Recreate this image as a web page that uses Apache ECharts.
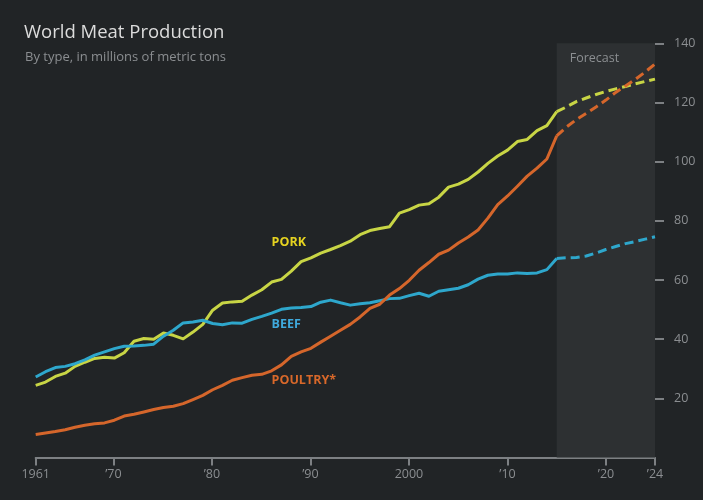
<!DOCTYPE html>
<html>
<head>
<meta charset="utf-8">
<script src="https://cdn.jsdelivr.net/npm/echarts@6/dist/echarts.min.js"></script>
<style>
html,body{margin:0;padding:0;background:#212426;}
#chart{width:703px;height:500px;}
</style>
</head>
<body>
<div id="chart"></div>
<script>
// ---- Data (millions of metric tons) ----
const histYears = [1961,1962,1963,1964,1965,1966,1967,1968,1969,1970,
  1971,1972,1973,1974,1975,1976,1977,1978,1979,1980,
  1981,1982,1983,1984,1985,1986,1987,1988,1989,1990,
  1991,1992,1993,1994,1995,1996,1997,1998,1999,2000,
  2001,2002,2003,2004,2005,2006,2007,2008,2009,2010,
  2011,2012,2013,2014];
const forecastYears = [2014,2015,2016,2017,2018,2019,2020,2021,2022,2023,2024];

const porkHist = [24.4,25.5,27.4,28.5,30.8,32.2,33.5,33.9,33.6,35.4,
  39.3,40.2,40.0,42.1,41.3,40.1,42.4,45.0,49.8,52.2,
  52.6,52.8,54.9,56.7,59.3,60.2,63.0,66.2,67.5,69.1,
  70.3,71.6,73.1,75.3,76.7,77.4,78.0,82.6,83.8,85.3,
  85.8,88.0,91.4,92.4,94.0,96.5,99.4,101.9,103.9,106.8,
  107.5,110.5,112.2,116.9];
const beefHist = [27.2,29.0,30.4,30.8,31.7,33.0,34.6,35.7,36.8,37.6,
  37.7,37.9,38.3,41.0,43.0,45.5,45.8,46.4,45.3,44.9,
  45.5,45.4,46.7,47.7,48.8,50.1,50.5,50.7,51.0,52.5,
  53.2,52.3,51.5,52.0,52.3,53.0,53.7,53.8,54.7,55.5,
  54.5,56.2,56.7,57.2,58.4,60.3,61.6,62.0,62.0,62.4,
  62.2,62.4,63.5,67.3];
const poultryHist = [7.8,8.3,8.8,9.4,10.2,10.9,11.4,11.7,12.6,14.0,
  14.6,15.4,16.2,16.9,17.3,18.2,19.6,21.0,22.9,24.4,
  26.1,27.0,27.8,28.1,29.3,31.3,34.2,35.7,36.9,39.0,
  41.0,43.0,45.0,47.5,50.4,51.8,54.9,57.1,59.9,63.3,
  65.9,68.7,70.1,72.5,74.5,76.9,80.9,85.5,88.4,91.7,
  95.1,97.8,100.9,108.7];

const porkForecast = [116.9,118.5,120.3,121.5,122.7,123.7,124.6,125.4,126.3,127.1,127.9];
const beefForecast = [67.3,67.5,67.6,68.1,69.1,70.3,71.3,72.3,73.0,73.8,74.6];
const poultryForecast = [108.7,111.7,114.2,116.3,118.5,120.8,123.4,125.6,127.8,130.3,133.0];

const seriesNames = ['PORK','BEEF','POULTRY*'];
const labelAnchors = [[1985, 72.8],[1985, 45.0],[1985, 26.1]]; // [year, value] where each name sits

const xTickLabels = ['1961','\u201970','\u201980','\u201990','2000','\u201910','\u201920','\u201924'];
const xTickYears = [1961,1970,1980,1990,2000,2010,2020,2024];
const yTicks = [20,40,60,80,100,120,140];

const forecastStart = 2014, forecastEnd = 2024;

// ---- Styles ----
const lineColors = ['#c8d545','#2ea7cc','#d5662b'];
const nameColors = ['#e6d320','#3fa9dc','#d8682a'];
const gray = '#8b8e91';

// display calibration of the year scale (edge ticks at plot edges)
const dispMin = 1962.12, dispMax = 2024.97;
const dispTicks = xTickYears.map((y,i)=> i===0 ? dispMin : (i===xTickYears.length-1 ? dispMax : y));

function pairs(xs, vs){ return xs.map((x,i)=>[x, vs[i]]); }

const hist = [porkHist, beefHist, poultryHist];
const fore = [porkForecast, beefForecast, poultryForecast];

const series = [];
series.push({
  type:'line', data:[], xAxisIndex:0, z:1, silent:true,
  markArea:{
    silent:true,
    itemStyle:{color:'#2d3032'},
    label:{show:true, position:'insideTopLeft', distance:9, offset:[4,0], color:gray,
      fontFamily:'Open Sans', fontSize:12.5},
    data:[[{xAxis:forecastStart, yAxis:0, name:'Forecast'},{xAxis:forecastEnd, yAxis:140}]]
  }
});
for (let i=0;i<3;i++){
  series.push({
    type:'line', name:seriesNames[i], xAxisIndex:0, z:3,
    data:pairs(histYears, hist[i]), showSymbol:false, symbol:'none',
    lineStyle:{color:lineColors[i], width:3, join:'round'},
    markPoint:{
      symbol:'circle', symbolSize:0, silent:true,
      label:{show:true, position:'right', distance:0, formatter:'{b}',
        color:nameColors[i], fontFamily:'Open Sans', fontWeight:'bold', fontSize:12.5},
      data:[{name:seriesNames[i], coord:labelAnchors[i]}]
    }
  });
  series.push({
    type:'line', xAxisIndex:0, z:3,
    data:pairs(forecastYears, fore[i]), showSymbol:false, symbol:'none',
    lineStyle:{color:lineColors[i], width:3, type:[9,5]}
  });
}

const chart = echarts.init(document.getElementById('chart'), null, {renderer:'canvas'});
chart.setOption({
  backgroundColor:'#212426',
  animation:false,
  title:[
    {text:'World Meat Production', left:19, top:18,
      textStyle:{color:'#dcdcdc', fontFamily:'Open Sans', fontWeight:'normal', fontSize:18.5}},
    {text:'By type, in millions of metric tons', left:20, top:46,
      textStyle:{color:gray, fontFamily:'Open Sans', fontWeight:'normal', fontSize:13}}
  ],
  grid:{left:35.7, right:48, top:43.3, bottom:42.5, containLabel:false},
  xAxis:[
    {type:'value', min:1961, max:2024, show:false},
    {type:'value', min:dispMin, max:dispMax, position:'bottom',
      axisLine:{show:true, lineStyle:{color:'#7d8083', width:2}},
      axisTick:{show:true, length:8, customValues:dispTicks, lineStyle:{color:'#7d8083', width:2}},
      axisLabel:{show:true, customValues:dispTicks, margin:10, color:gray,
        fontFamily:'Open Sans', fontSize:12.5,
        formatter:function(v){
          for (let i=0;i<dispTicks.length;i++){ if (Math.abs(v-dispTicks[i])<0.01) return xTickLabels[i]; }
          return '';
        }},
      splitLine:{show:false}}
  ],
  yAxis:{type:'value', position:'right', min:0, max:140,
    axisLine:{show:false},
    axisTick:{show:true, length:9, customValues:yTicks, lineStyle:{color:'#7d8083', width:2}},
    axisLabel:{show:true, customValues:yTicks, margin:19, color:gray, fontFamily:'Open Sans', fontSize:12.5},
    splitLine:{show:false}},
  series:series
});
</script>
</body>
</html>
